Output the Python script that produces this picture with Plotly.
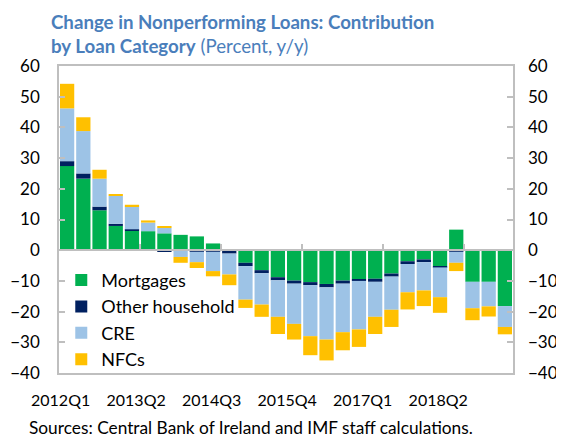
import plotly.graph_objects as go

quarters = [f"{y}Q{q}" for y in range(2012, 2019) for q in range(1, 5)]
tick_labels = ["2012Q1", "2013Q2", "2014Q3", "2015Q4", "2017Q1", "2018Q2"]

mortgages = [27.4, 23.3, 13.0, 7.9, 6.3, 6.2, 5.5, 5.0, 4.5, 2.2, 0.0, -4.1, -6.5, -8.8,
             -9.9, -10.4, -11.0, -9.9, -9.4, -9.3, -7.6, -3.6, -3.0, -5.3, 6.7, -10.3, -10.3, -18.2]
other_household = [1.6, 1.7, 1.2, 0.7, 0.5, 0.0, -0.5, 0.0, -0.5, -0.5, -1.1, -1.1, -1.0, -1.0,
                   -1.0, -1.0, -1.1, -1.0, -0.6, -1.0, -1.0, -0.9, -0.9, -0.3, -0.5, 0.0, 0.0, 0.0]
cre = [17.2, 13.8, 9.1, 9.1, 7.4, 2.8, 1.8, -2.2, -3.4, -6.3, -6.8, -10.9, -10.2, -11.9,
       -13.1, -16.6, -17.0, -15.8, -15.8, -11.4, -10.8, -9.2, -9.2, -9.7, -3.6, -8.6, -8.0, -6.8]
nfcs = [8.0, 4.5, 2.9, 0.5, 0.6, 0.7, 0.5, -1.9, -1.9, -1.7, -3.5, -2.7, -4.0, -5.6,
        -5.1, -6.2, -6.8, -5.9, -5.7, -5.6, -5.6, -5.6, -5.1, -5.1, -2.7, -3.9, -3.3, -2.4]

series = [("Mortgages", mortgages, "#00B050"),
          ("Other household", other_household, "#002060"),
          ("CRE", cre, "#9DC3E6"),
          ("NFCs", nfcs, "#FFC000")]

FONT = "Lato"
GRID = "#BFBFBF"
x_idx = list(range(len(quarters)))

fig = go.Figure()
for name, vals, col in series:
    fig.add_trace(go.Bar(x=x_idx, y=vals, name=name, marker=dict(color=col, line=dict(width=0)),
                         customdata=quarters, hovertemplate="%{customdata}: %{y}<extra>" + name + "</extra>"))

# label positions (labels in the source are spaced slightly tighter than the 5-quarter grid)
step = 0.9315
tickvals = [5 * k * step - 0.4 for k in range(len(tick_labels))]

# the page body has an 8px margin, so the figure is drawn 8px smaller than the window
fig.update_layout(
    width=556, height=430,
    margin=dict(l=51, r=51, t=58, b=65, autoexpand=False),
    paper_bgcolor="white", plot_bgcolor="white",
    barmode="relative", bargap=0.12,
    font=dict(family=FONT, size=16, color="#000000"),
    showlegend=True,
    legend=dict(x=0.005, y=0.362, xanchor="left", yanchor="top", bgcolor="rgba(0,0,0,0)",
                font=dict(size=18), traceorder="normal", tracegroupgap=0, itemwidth=30),
    xaxis=dict(range=[-0.5, 27.5], tickvals=tickvals, ticktext=tick_labels, ticks="",
               showgrid=False, zeroline=False, showline=True, linecolor=GRID, linewidth=1.5,
               mirror=True, ticklabelstandoff=12, tickfont=dict(size=16), automargin=False),
    xaxis2=dict(range=[-0.5, 27.5], overlaying="x", side="top", anchor="free", position=0.4,
                showline=True, linecolor=GRID, linewidth=1.5, ticks="outside", ticklen=5,
                tickcolor=GRID, tickwidth=1.5, tickvals=[4.5, 9.5, 14.5, 19.5, 24.5],
                showticklabels=False, showgrid=False, zeroline=False, automargin=False),
    yaxis=dict(range=[-40, 60], dtick=10, ticks="inside", ticklen=6, tickcolor=GRID, tickwidth=1.5,
               showgrid=False, zeroline=False, showline=True, linecolor=GRID, linewidth=1.5,
               mirror=True, ticklabelstandoff=14, tickfont=dict(size=17), automargin=False),
    yaxis2=dict(range=[-40, 60], dtick=10, overlaying="y", side="right", ticks="inside", ticklen=6,
                tickcolor=GRID, tickwidth=1.5, showgrid=False, zeroline=False, showline=False,
                ticklabelstandoff=14, tickfont=dict(size=17), automargin=False),
    annotations=[
        dict(text="<b>Change in Nonperforming Loans: Contribution</b><br><b>by Loan Category</b> (Percent, y/y)",
             xref="paper", yref="paper", x=-0.0227, y=1.105, xanchor="left", yanchor="middle",
             align="left", showarrow=False, font=dict(family=FONT, size=18.7, color="#4A7EBB")),
        dict(text="Sources: Central Bank of Ireland and IMF staff calculations.",
             xref="paper", yref="paper", x=(28 - 59) / 454, y=-0.1775, borderpad=0,
             xanchor="left", yanchor="middle", showarrow=False,
             font=dict(family=FONT, size=17.3)),
    ],
)
# helper traces so the right axis and zero-line axis are drawn
fig.add_trace(go.Scatter(x=[None], y=[None], yaxis="y2", showlegend=False, hoverinfo="skip"))
fig.add_trace(go.Scatter(x=[None], y=[None], xaxis="x2", showlegend=False, hoverinfo="skip"))

fig.write_html("out.html")
